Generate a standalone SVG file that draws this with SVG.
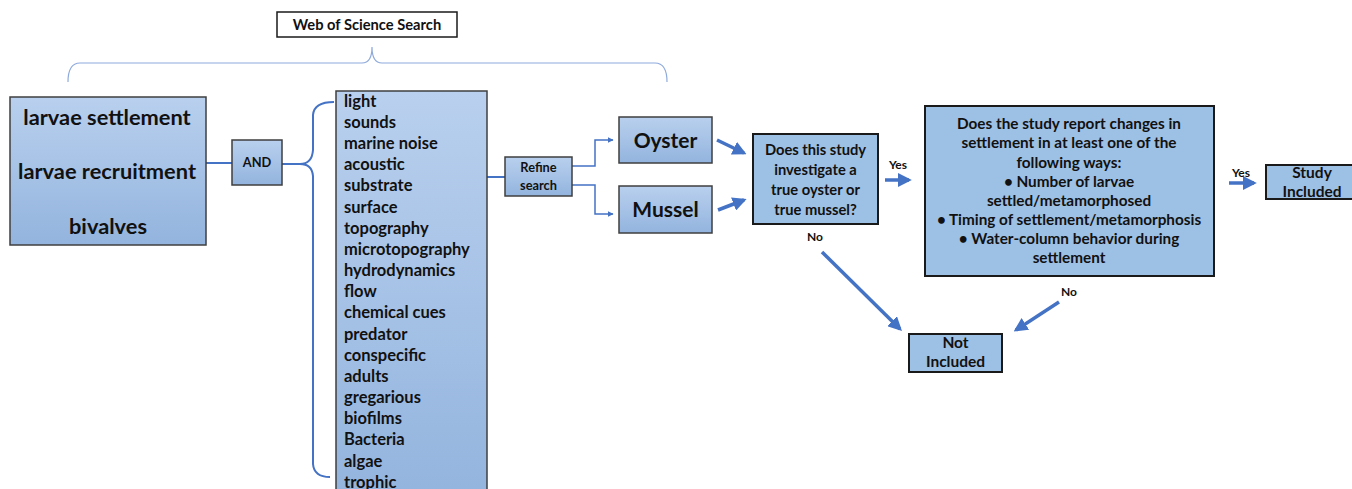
<svg xmlns="http://www.w3.org/2000/svg" width="1352" height="489" viewBox="0 0 1352 489">
<defs>
<linearGradient id="g" x1="0" y1="0" x2="0" y2="1">
<stop offset="0" stop-color="#b9d0ee"/>
<stop offset="1" stop-color="#93b4de"/>
</linearGradient>
<marker id="a" viewBox="0 0 10 10" refX="9" refY="5" markerWidth="6" markerHeight="6" orient="auto" markerUnits="userSpaceOnUse">
<path d="M0,0 L10,5 L0,10 z" fill="#4472c4"/>
</marker>
<marker id="b" viewBox="0 0 10 10" refX="8" refY="5" markerWidth="4" markerHeight="4" orient="auto">
<path d="M0,0 L10,5 L0,10 z" fill="#4472c4"/>
</marker>
</defs>
<style>
text{font-family:Lato,"Liberation Sans",sans-serif;font-weight:bold;fill:#111}
.gb{fill:url(#g);stroke:#3f3f3f;stroke-width:1.5}
.fb{fill:#9dc0e5;stroke:#1a1a1a;stroke-width:2}
.ln{fill:none;stroke:#4472c4;stroke-width:2}
.thin{fill:none;stroke:#4472c4;stroke-width:1.5}
.br{fill:none;stroke:#8eaadb;stroke-width:1.2}
.th{fill:none;stroke:#4472c4;stroke-width:3.5}
.c{text-anchor:middle}
</style>
<rect width="1352" height="489" fill="#fff"/>

<g id="wos">
<rect x="277" y="12" width="180" height="25" fill="#fff" stroke="#1a1a1a" stroke-width="1.5"/>
<text x="367" y="30" class="c" font-size="14.7">Web of Science Search</text>
</g>

<g id="connectors">
<path class="br" d="M68,82 Q68,63 80,63 L362,63 Q372,63 372,47 Q372,63 382,63 L655,63 Q667,63 667,82"/>
<line class="ln" x1="206" y1="163" x2="232" y2="163"/>
<path class="ln" d="M282,164 L300,164 Q312,164 313,150 L313,115 Q314,102 334,102 M313,176 Q312,164 300,164 M313,176 L313,464 Q314,477 330,477"/>
<line class="ln" x1="487" y1="177" x2="505" y2="177"/>
<path class="thin" d="M572,166 L595,166 L595,140 L613,140" marker-end="url(#a)"/>
<path class="thin" d="M572,185 L595,185 L595,214 L613,214" marker-end="url(#a)"/>
<line class="th" x1="717" y1="140" x2="744" y2="153" marker-end="url(#b)"/>
<line class="th" x1="718" y1="210" x2="744" y2="200" marker-end="url(#b)"/>
<line class="th" x1="885" y1="180" x2="909" y2="180" marker-end="url(#b)"/>
<line class="th" x1="822" y1="252" x2="900" y2="329" marker-end="url(#b)"/>
<line class="th" x1="1229" y1="183" x2="1254" y2="183" marker-end="url(#b)"/>
<line class="th" x1="1059" y1="302" x2="1016" y2="330" marker-end="url(#b)"/>
<text x="898" y="169" class="c" font-size="12">Yes</text>
<text x="815" y="241" class="c" font-size="12">No</text>
<text x="1241" y="177" class="c" font-size="12">Yes</text>
<text x="1069" y="296" class="c" font-size="12">No</text>
</g>

<g id="terms">
<rect class="gb" x="10" y="97" width="196" height="148"/>
<text x="107" y="125" class="c" font-size="21.8">larvae settlement</text>
<text x="107" y="179" class="c" font-size="21.8">larvae recruitment</text>
<text x="108" y="234" class="c" font-size="21.8">bivalves</text>
</g>

<g id="and">
<rect class="gb" x="232" y="140" width="50" height="45"/>
<text x="257" y="167" class="c" font-size="12.8">AND</text>
</g>

<g id="list">
<rect class="gb" x="336" y="91" width="151" height="410"/>
<g font-size="16.5">
<text x="344" y="107">light</text>
<text x="344" y="128">sounds</text>
<text x="344" y="149">marine noise</text>
<text x="344" y="170">acoustic</text>
<text x="344" y="191">substrate</text>
<text x="344" y="213">surface</text>
<text x="344" y="234">topography</text>
<text x="344" y="255">microtopography</text>
<text x="344" y="276">hydrodynamics</text>
<text x="344" y="297">flow</text>
<text x="344" y="318">chemical cues</text>
<text x="344" y="340">predator</text>
<text x="344" y="361">conspecific</text>
<text x="344" y="382">adults</text>
<text x="344" y="403">gregarious</text>
<text x="344" y="424">biofilms</text>
<text x="344" y="445">Bacteria</text>
<text x="344" y="467">algae</text>
<text x="344" y="488">trophic</text>
</g>
</g>

<g id="refine">
<rect class="gb" x="505" y="157" width="67" height="39"/>
<text x="538.5" y="172" class="c" font-size="12.8">Refine</text>
<text x="538.5" y="190" class="c" font-size="12.8">search</text>
</g>

<g id="oyster">
<rect class="gb" x="619" y="117" width="93" height="46"/>
<text x="665.5" y="148" class="c" font-size="21">Oyster</text>
</g>

<g id="mussel">
<rect class="gb" x="619" y="186" width="93" height="47"/>
<text x="665.5" y="217" class="c" font-size="21">Mussel</text>
</g>

<g id="q1">
<rect class="fb" x="753" y="134" width="125" height="90"/>
<g font-size="14.7">
<text x="815.5" y="155" class="c">Does this study</text>
<text x="815.5" y="175" class="c">investigate a</text>
<text x="815.5" y="195" class="c">true oyster or</text>
<text x="815.5" y="215" class="c">true mussel?</text>
</g>
</g>

<g id="q2">
<rect class="fb" x="925" y="106" width="289" height="170"/>
<g font-size="15.3">
<text x="1069" y="129" class="c">Does the study report changes in</text>
<text x="1069" y="148" class="c">settlement in at least one of the</text>
<text x="1069" y="168" class="c">following ways:</text>
<text x="1069" y="187" class="c">• Number of larvae</text>
<text x="1069" y="206" class="c">settled/metamorphosed</text>
<text x="1069" y="225" class="c">• Timing of settlement/metamorphosis</text>
<text x="1069" y="244" class="c">• Water-column behavior during</text>
<text x="1069" y="263" class="c">settlement</text>
</g>
</g>

<g id="included">
<rect class="fb" x="1266" y="165" width="90" height="34"/>
<text x="1312" y="178" class="c" font-size="15.5">Study</text>
<text x="1312" y="197" class="c" font-size="15.5">Included</text>
</g>

<g id="notincluded">
<rect class="fb" x="909" y="334" width="93" height="38"/>
<text x="955.5" y="348" class="c" font-size="15.5">Not</text>
<text x="955.5" y="367" class="c" font-size="15.5">Included</text>
</g>
</svg>
